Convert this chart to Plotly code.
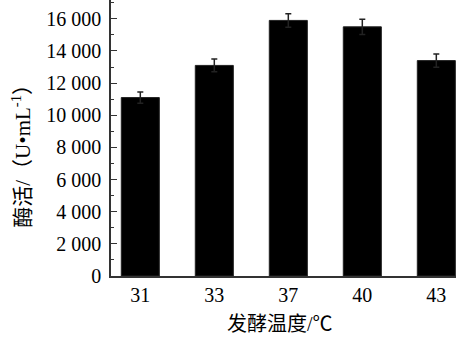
import plotly.graph_objects as go

categories = ["31", "33", "37", "40", "43"]
values = [11100, 13100, 15900, 15500, 13400]
errors = [350, 400, 420, 480, 410]
y_ticks = [0, 2000, 4000, 6000, 8000, 10000, 12000, 14000, 16000]

SERIF = "Times New Roman, Liberation Serif, DejaVu Serif, serif"
FONT = "Times New Roman, Liberation Serif, Noto Sans CJK SC, serif"

x_pos = list(range(len(categories)))

fig = go.Figure()
fig.add_trace(go.Bar(
    x=x_pos, y=values, width=0.514,
    marker=dict(color="black", line=dict(color="#222222", width=1)),
    error_y=dict(type="data", array=errors, visible=True, color="#222222",
                 thickness=1.5, width=3),
))

fig.update_layout(
    width=467, height=345,
    margin=dict(l=111, r=11, t=0, b=69),
    paper_bgcolor="white", plot_bgcolor="white",
    showlegend=False,
    separators=". ",
    font=dict(family=FONT, size=20, color="black"),
    xaxis=dict(
        tickmode="array", tickvals=x_pos, ticktext=categories,
        range=[-0.396, 4.266],
        showline=True, linecolor="#333333", linewidth=1.5,
        ticks="", showgrid=False, zeroline=False,
        tickfont=dict(family=SERIF, size=20),
    ),
    yaxis=dict(
        range=[0, 17170],
        tickmode="array", tickvals=y_ticks,
        tickformat=",d",
        showline=True, linecolor="#333333", linewidth=1.5,
        ticks="inside", ticklen=6, tickwidth=1.2, tickcolor="#333333",
        minor=dict(dtick=1000, ticks="inside", ticklen=3, tickwidth=1, tickcolor="#333333"),
        showgrid=False, zeroline=False,
        tickfont=dict(family=SERIF, size=20),
        ticklabelstandoff=4,
    ),
)

fig.add_annotation(
    text="酶活/（U•mL<sup>-1</sup>）",
    xref="paper", yref="paper", x=-0.26, y=0.455,
    xanchor="center", yanchor="middle", textangle=-90, showarrow=False,
    font=dict(family=FONT, size=21, color="black"),
)
fig.add_annotation(
    text="发酵温度/℃",
    xref="paper", yref="paper", x=0.49, y=-0.125,
    xanchor="center", yanchor="top", showarrow=False,
    font=dict(family=FONT, size=20, color="black"),
)

fig.write_html("out.html")
